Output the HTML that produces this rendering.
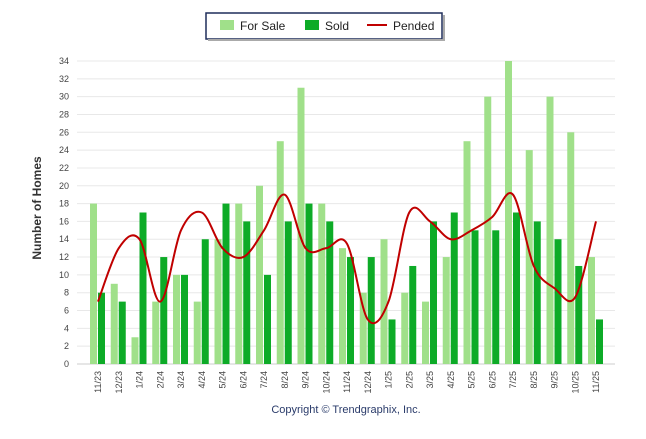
<!DOCTYPE html>
<html><head><meta charset="utf-8"><style>
body{margin:0;background:#fff;font-family:"Liberation Sans",sans-serif}
svg text{font-family:"Liberation Sans",sans-serif}
</style></head><body>
<svg width="646" height="434" id="c">
<g>
<rect x="206" y="13" width="236" height="26" fill="#fff" stroke="#1f2d5a" stroke-width="1.5"/>
<rect x="443" y="15" width="2" height="26" fill="#aaa"/>
<rect x="208" y="39" width="236" height="2" fill="#aaa"/>
<rect x="220" y="20" width="14" height="10" fill="#a0e08a"/>
<text x="240" y="30" font-size="12" fill="#222">For Sale</text>
<rect x="305" y="20" width="14" height="10" fill="#0dab27"/>
<text x="325" y="30" font-size="12" fill="#222">Sold</text>
<rect x="367" y="24" width="20" height="2" fill="#c00000"/>
<text x="393" y="30" font-size="12" fill="#222">Pended</text>
</g>
<text transform="translate(41,208) rotate(-90)" text-anchor="middle" font-size="12" font-weight="bold" fill="#333">Number of Homes</text>
<text x="346" y="413" text-anchor="middle" font-size="11" fill="#2a3b6a">Copyright © Trendgraphix, Inc.</text>
<g id="grid"></g><g id="bars"></g><g id="line"></g><g id="axes"></g>
</svg>
<script>
const categories=["11/23","12/23","1/24","2/24","3/24","4/24","5/24","6/24","7/24","8/24","9/24","10/24","11/24","12/24","1/25","2/25","3/25","4/25","5/25","6/25","7/25","8/25","9/25","10/25","11/25"];
const forSale=[18,9,3,7,10,7,14,18,20,25,31,18,13,8,14,8,7,12,25,30,34,24,30,26,12];
const sold=[8,7,17,12,10,14,18,16,10,16,18,16,12,12,5,11,16,17,15,15,17,16,14,11,5];
const pended=[7,13,14,7,15,17,13,12,15,19,13,13,13.5,5,7,17,16,14,15,16.5,19,11,8.5,7.5,16];
const yTicks=[0,2,4,6,8,10,12,14,16,18,20,22,24,26,28,30,32,34];
const NS="http://www.w3.org/2000/svg";
const y=v=>364-v*303/34;
const x=i=>98+i*20.75;
function mk(t,a,p){const e=document.createElementNS(NS,t);for(const k in a)e.setAttribute(k,a[k]);document.getElementById(p).appendChild(e);return e;}
yTicks.forEach(v=>{
 const l=mk('line',{x1:77,x2:615,y1:y(v),y2:y(v),stroke:v?'#e8e8e8':'#ccc'},'grid');
 
 
 const t=mk('text',{x:69,y:y(v)+3,'text-anchor':'end','font-size':'9',fill:'#444'},'axes');t.textContent=v;
 
 
});
categories.forEach((c,i)=>{
 const a=mk('rect',{x:x(i)-8,y:y(forSale[i]),width:7,height:364-y(forSale[i]),fill:'#a0e08a'},'bars');
 
 
 const b=mk('rect',{x:x(i),y:y(sold[i]),width:7,height:364-y(sold[i]),fill:'#0dab27'},'bars');
 
 
 const t=mk('text',{transform:`translate(${x(i)+3},371) rotate(-90)`,'text-anchor':'end','font-size':'9',fill:'#444'},'axes');t.textContent=c;
 
 
});
let d='';const P=pended.map((v,i)=>[x(i),y(v)]);
P.forEach((p,i)=>{if(!i){d=`M${p[0]},${p[1]}`;return;}
 const p0=P[i-2]||P[i-1],p1=P[i-1],p3=P[i+1]||p;
 d+=` C${p1[0]+(p[0]-p0[0])/6},${p1[1]+(p[1]-p0[1])/6} ${p[0]-(p3[0]-p1[0])/6},${p[1]-(p3[1]-p1[1])/6} ${p[0]},${p[1]}`;});
const ln=mk('path',{d:d,fill:'none',stroke:'#c00000','stroke-width':2},'line');


</script>
</body></html>
